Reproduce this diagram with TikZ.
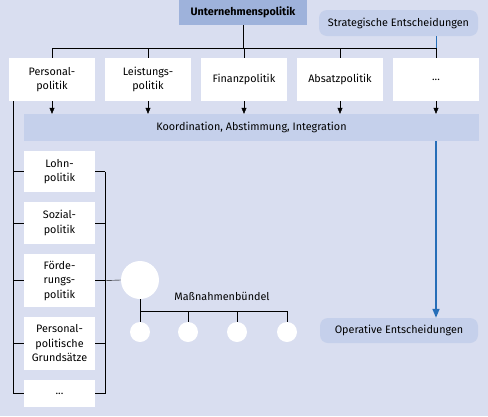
\documentclass[tikz,border=0pt]{standalone}
\usepackage{fontspec}
\setmainfont{Fira Sans}
\usepackage{tikz}
\usetikzlibrary{arrows.meta,positioning,calc}

\definecolor{bgblue}{RGB}{217,222,240}
\definecolor{midblue}{RGB}{158,178,219}
\definecolor{lightblue}{RGB}{197,208,235}
\definecolor{arrblue}{RGB}{38,110,184}

\begin{document}
\begin{tikzpicture}[
    x=1pt, y=-1pt,
    box/.style={fill=white, inner sep=0pt, minimum width=86, minimum height=43, align=center, font=\fontsize{10.8}{14.5}\selectfont},
    subbox/.style={box, minimum width=71},
    band/.style={fill=lightblue, inner sep=0pt, align=center, font=\fontsize{10.8}{14.5}\selectfont},
    dot/.style={circle, fill=white, inner sep=0pt, minimum size=20},
    arr/.style={-{Triangle[length=6pt, width=5pt]}, draw=black},
    bluearr/.style={-{Triangle[length=9pt, width=7pt]}, draw=arrblue, line width=1.5pt}
]
  \fill[bgblue] (0,0) rectangle (488,416);
  \useasboundingbox (0,0) rectangle (488,416);

  % top level
  \node[fill=midblue, inner sep=0pt, minimum width=128, minimum height=25, font=\fontsize{10.8}{14.5}\selectfont\bfseries] (top) at (243,12.5) {Unternehmenspolitik};
  \node[band, rounded corners=8pt, minimum width=159, minimum height=26] (strat) at (398.5,23) {Strategische Entscheidungen};

  \node[box] (pers) at (52,79.5)  {Personal-\\politik};
  \node[box] (leist) at (148,79.5) {Leistungs-\\politik};
  \node[box] (fin) at (244,79.5)  {Finanzpolitik};
  \node[box] (abs) at (340,79.5)  {Absatzpolitik};
  \node[box] (etc) at (436,79.5)  {...};

  \node[band, minimum width=455, minimum height=27] (koord) at (251.5,127.5) {Koordination, Abstimmung, Integration};

  % Personalpolitik im Detail
  \node[subbox, minimum height=41] (lohn) at (59.5,171.5) {Lohn-\\politik};
  \node[subbox, minimum height=42] (sozial) at (59.5,223) {Sozial-\\politik};
  \node[subbox, minimum height=53] (foerd) at (59.5,280.5) {Förde-\\rungs-\\politik};
  \node[subbox, minimum height=53] (grund) at (59.5,343.5) {Personal-\\politische\\Grundsätze};
  \node[subbox, minimum height=27] (more) at (59.5,393.5) {...};

  \node[circle, fill=white, inner sep=0pt, minimum size=38] (big) at (140,280) {};
  \node[font=\fontsize{10.8}{14.5}\selectfont] (mass) at (222,296) {Maßnahmenbündel};
  \node[dot] (m1) at (140,332) {};
  \node[dot] (m2) at (188,332) {};
  \node[dot] (m3) at (237,332) {};
  \node[dot] (m4) at (287,332) {};

  \node[band, rounded corners=8pt, minimum width=158, minimum height=25] (oper) at (399,330.5) {Operative Entscheidungen};

  \coordinate (hub) at (0,48);
  \coordinate (trunk) at (13,0);
  \coordinate (brk) at (105,0);
  \coordinate (bus) at (0,311);

  \draw (top.south) -- (top.south |- hub);
  \draw (pers.north |- hub) -- (etc.north |- hub);
  \foreach \n in {pers,leist,fin,abs,etc}
    \draw (\n.north |- hub) -- (\n.north);
  \draw[arrblue, line width=1pt] (etc.north |- strat.south) -- (etc.north |- hub);
  \foreach \n in {pers,leist,fin,abs,etc}
    \draw[arr] (\n.south) -- (\n.south |- koord.north);

  \draw (trunk |- pers.south) -- (trunk |- more.west);
  \draw (brk |- lohn.east) -- (brk |- more.east);
  \foreach \n in {lohn,sozial,foerd,grund,more} {
    \draw (trunk |- \n.west) -- (\n.west);
    \draw (\n.east) -- (brk |- \n.east);
  }
  \draw (brk |- foerd.east) -- (big.west);

  \draw (big.south) -- (m1.north);
  \draw (m1 |- bus) -| (m4.north);
  \draw (m2 |- bus) -- (m2.north);
  \draw (m3 |- bus) -- (m3.north);

  \draw[bluearr] (etc.south |- koord.south) -- (etc.south |- oper.north);
\end{tikzpicture}
\end{document}
